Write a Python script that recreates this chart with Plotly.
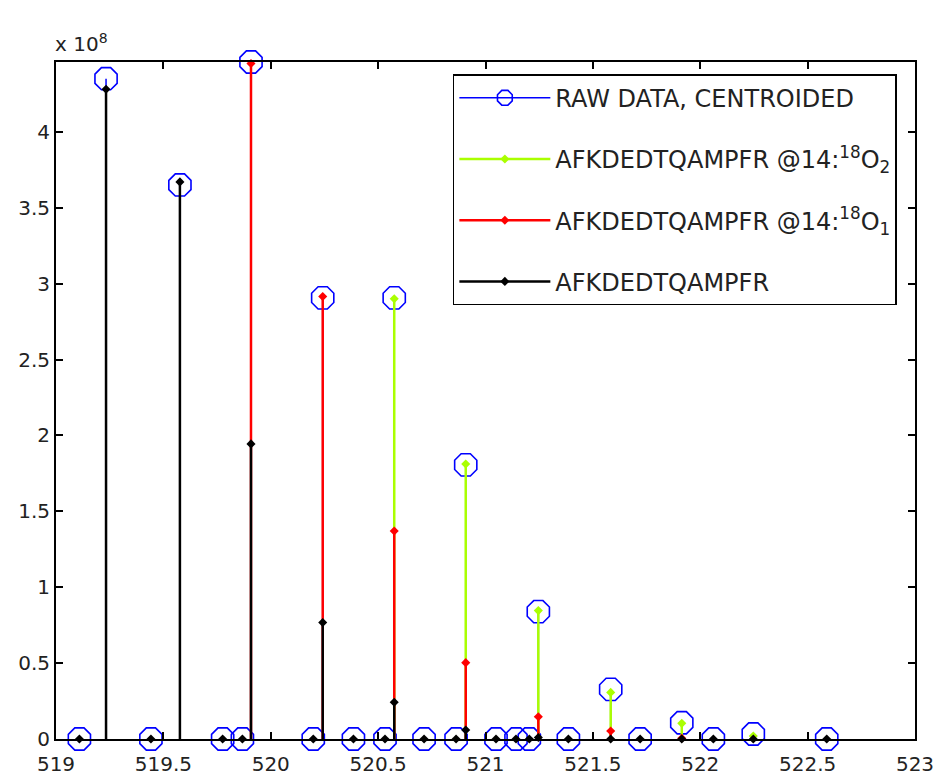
import plotly.graph_objects as go

# Centroided m/z positions and intensities (units of 1e8 counts)
mz = [519.109, 519.233, 519.442, 519.577, 519.776, 519.868, 519.908,
      520.198, 520.242, 520.385, 520.532, 520.575, 520.714, 520.863,
      520.908, 521.049, 521.142, 521.204, 521.246, 521.386, 521.583,
      521.720, 521.914, 522.061, 522.247, 522.589]

raw_centroided = [0, 4.35, 0, 3.65, 0, 0, 4.46,
                  0, 2.906, 0, 0, 2.906, 0, 0,
                  1.806, 0, 0, 0, 0.839, 0, 0.327,
                  0, 0.107, 0, 0.033, 0]

# Theoretical isotope envelopes (None where the envelope has no peak)
o18_2 = [None, None, None, None, None, None, None,
         None, None, None, None, 2.90, None, None,
         1.812, None, None, None, 0.846, None, 0.307,
         None, 0.103, None, 0.02, None]

o18_1 = [None, None, None, None, None, None, 4.45,
         None, 2.915, None, None, 1.37, None, None,
         0.503, None, None, None, 0.147, None, 0.053,
         None, 0.005, None, None, None]

unlabeled = [0, 4.28, 0, 3.67, 0, 0, 1.944,
             0, 0.767, 0, 0, 0.242, 0, 0,
             0.059, 0, 0, 0, 0.01, 0, 0,
             0, 0, 0, 0, 0]

x_ticks = [519, 519.5, 520, 520.5, 521, 521.5, 522, 522.5, 523]
y_ticks = [0, 0.5, 1, 1.5, 2, 2.5, 3, 3.5, 4]

FONT = "DejaVu Sans"
CLEAR = "rgba(0,0,0,0)"


def stems(xs, ys, color):
    """Stem segments (top first, then baseline) separated by gaps,
    with a marker colour list that shows the marker only at the top."""
    sx, sy, mc = [], [], []
    for x, y in zip(xs, ys):
        if y is None:
            continue
        sx += [x, x, None]
        sy += [y, 0, None]
        mc += [color, CLEAR, CLEAR]
    return sx, sy, mc


fig = go.Figure()

sx, sy, mc = stems(mz, raw_centroided, "#0000FF")
fig.add_trace(go.Scatter(
    x=sx, y=sy, mode="lines+markers", name="RAW DATA, CENTROIDED",
    legendgroup="raw", cliponaxis=False,
    line=dict(color="#0000FF", width=1.5),
    marker=dict(symbol="octagon-open", size=24, color=mc,
                line=dict(width=1.6)),
))

series = [
    ("AFKDEDTQAMPFR @14:<sup>18</sup>O<sub>2</sub>", o18_2, "#AAFF00", "o2"),
    ("AFKDEDTQAMPFR @14:<sup>18</sup>O<sub>1</sub>", o18_1, "#FF0000", "o1"),
    ("AFKDEDTQAMPFR", unlabeled, "#000000", "o0"),
]
for name, vals, color, grp in series:
    sx, sy, mc = stems(mz, vals, color)
    fig.add_trace(go.Scatter(
        x=sx, y=sy, mode="lines+markers", name=name,
        legendgroup=grp, cliponaxis=False,
        line=dict(color=color, width=2.5),
        marker=dict(symbol="diamond", size=7, color=mc),
    ))

axis_common = dict(
    showline=True, linecolor="black", linewidth=2, mirror="ticks",
    ticks="inside", ticklen=7, tickwidth=1.5, tickcolor="black",
    showgrid=False, zeroline=False, automargin=False,
    tickfont=dict(family=FONT, size=20, color="#222222"),
)

fig.update_xaxes(range=[519, 523], tickvals=x_ticks,
                 ticktext=[f"{t:g}" for t in x_ticks],
                 ticklabelstandoff=6, **axis_common)
fig.update_yaxes(range=[0, 4.46], tickvals=y_ticks,
                 ticktext=[f"{t:g}" for t in y_ticks], **axis_common)

fig.add_annotation(
    text="x 10<sup>8</sup>", xref="paper", yref="paper",
    x=-0.004, y=1.0, xanchor="left", yanchor="bottom", yshift=4,
    showarrow=False, font=dict(family=FONT, size=20, color="#222222"),
)

fig.update_layout(
    width=939, height=778,
    margin=dict(l=56, r=24, t=62, b=39, autoexpand=False),
    paper_bgcolor="white", plot_bgcolor="white",
    showlegend=True,
    legend=dict(
        x=0.462, y=0.982, xanchor="left", yanchor="top",
        bgcolor="white", bordercolor="black", borderwidth=1.5,
        font=dict(family=FONT, size=24, color="#222222"),
        itemwidth=91, tracegroupgap=27,
    ),
)

fig.write_html("out.html")
